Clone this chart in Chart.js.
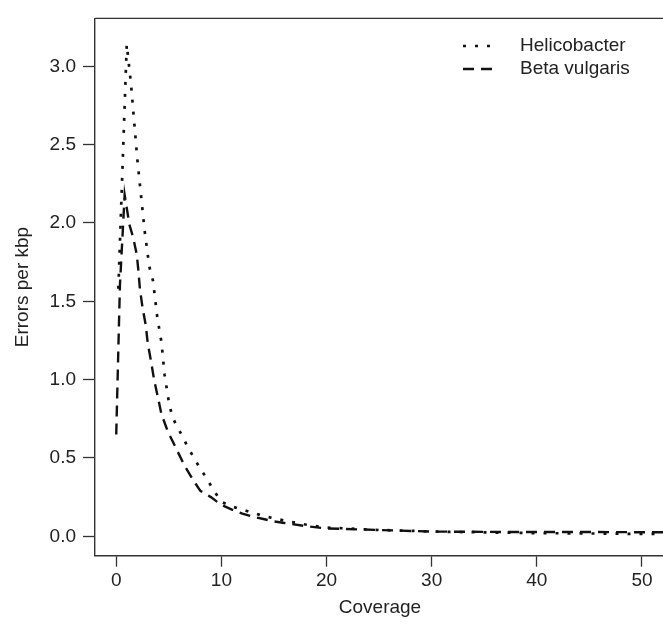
<!DOCTYPE html>
<html>
<head>
<meta charset="utf-8">
<script src="https://cdn.jsdelivr.net/npm/chart.js@4"></script>
<style>
  html, body { margin: 0; padding: 0; background: #fff; }
  #wrap { width: 663px; height: 624px; }
</style>
</head>
<body>
<div id="wrap"><canvas id="myChart" width="663" height="624"></canvas></div>
<script>
// 資料
const helicoCoverage = [0.2, 1.0, 1.4, 1.7, 2.0, 2.35, 2.7, 3.15, 3.5, 3.9, 4.3, 4.6, 5.0, 5.3, 5.7, 6.2, 6.8, 7.4, 8.0, 8.6, 9.2, 10, 11, 12, 13, 14, 16, 18, 20, 22, 25, 28, 30, 35, 40, 45, 50, 52];
const helicoErrors   = [1.58, 3.14, 2.89, 2.65, 2.41, 2.18, 1.95, 1.72, 1.63, 1.40, 1.24, 1.03, 0.86, 0.77, 0.71, 0.65, 0.57, 0.50, 0.43, 0.37, 0.30, 0.22, 0.19, 0.17, 0.15, 0.13, 0.10, 0.075, 0.055, 0.05, 0.04, 0.035, 0.03, 0.025, 0.02, 0.018, 0.015, 0.015];

const betaCoverage = [0, 0.35, 0.8, 1.25, 1.6, 1.95, 2.1, 2.25, 2.5, 2.8, 3.0, 3.3, 3.6, 3.95, 4.3, 4.9, 5.7, 6.5, 7.3, 8.0, 9.0, 10, 11, 12, 13, 14, 15, 16, 18, 20, 25, 30, 35, 40, 45, 50, 52];
const betaErrors   = [0.65, 1.6, 2.18, 1.99, 1.91, 1.80, 1.70, 1.58, 1.46, 1.35, 1.23, 1.12, 1.00, 0.89, 0.78, 0.67, 0.56, 0.45, 0.36, 0.29, 0.25, 0.20, 0.17, 0.145, 0.125, 0.11, 0.095, 0.085, 0.065, 0.05, 0.04, 0.03, 0.028, 0.027, 0.027, 0.026, 0.026];

const seriesNames = ['Helicobacter', 'Beta vulgaris'];
const xTicks = [0, 10, 20, 30, 40, 50];
const yTicks = [0, 0.5, 1.0, 1.5, 2.0, 2.5, 3.0];
const xTitle = 'Coverage';

const FONT = { family: '"Liberation Sans", Arial, sans-serif', size: 19 };
const INK = '#222';

function zip(xs, ys) {
  return xs.map((x, i) => ({ x: x, y: ys[i] }));
}

// 外框 + 圖例 + x 軸標題
const boxAndLegend = {
  id: 'boxAndLegend',
  afterDatasetsDraw(chart) {
    const { ctx, chartArea } = chart;
    ctx.save();
    ctx.strokeStyle = '#333';
    ctx.lineWidth = 1.4;
    ctx.beginPath();
    ctx.moveTo(chartArea.left, chartArea.top);
    ctx.lineTo(chartArea.right + 2, chartArea.top);
    ctx.stroke();

    ctx.font = `${FONT.size}px ${FONT.family}`;
    ctx.textBaseline = 'middle';
    ctx.fillStyle = INK;
    chart.data.datasets.forEach((ds, i) => {
      const y = 46 + i * 23;
      ctx.strokeStyle = ds.borderColor;
      ctx.lineWidth = ds.borderWidth;
      ctx.setLineDash(ds.borderDash);
      ctx.beginPath();
      ctx.moveTo(463, y);
      ctx.lineTo(495, y);
      ctx.stroke();
      ctx.setLineDash([]);
      ctx.fillText(ds.label, 520, y);
    });

    ctx.textAlign = 'center';
    ctx.fillText(xTitle, 380, 608);
    ctx.restore();
  }
};

const ctx = document.getElementById('myChart').getContext('2d');
const myChart = new Chart(ctx, {
  type: 'line',
  data: {
    datasets: [{
      label: seriesNames[0],
      data: zip(helicoCoverage, helicoErrors),
      borderColor: '#111',
      borderWidth: 2.7,
      borderDash: [3, 9],
      pointRadius: 0,
      tension: 0,
      fill: false
    }, {
      label: seriesNames[1],
      data: zip(betaCoverage, betaErrors),
      borderColor: '#111',
      borderWidth: 2.4,
      borderDash: [11, 7],
      pointRadius: 0,
      tension: 0,
      fill: false
    }]
  },
  options: {
    responsive: false,
    animation: false,
    layout: { padding: { top: 11.7, right: 0, left: 0, bottom: 0 } },
    plugins: { legend: { display: false }, tooltip: { enabled: false } },
    scales: {
      x: {
        type: 'linear',
        min: -2.02,
        max: 52.0,
        afterBuildTicks: (scale) => { scale.ticks = xTicks.map(v => ({ value: v })); },
        afterFit: (scale) => { scale.height = 68.3; },
        grid: { drawOnChartArea: false, drawTicks: true, tickLength: 11, tickColor: '#333', tickWidth: 1.3 },
        border: { display: true, color: '#333', width: 1.4 },
        ticks: { color: INK, font: FONT, padding: 3, maxRotation: 0, autoSkip: false },
        title: { display: false }
      },
      y: {
        type: 'linear',
        min: -0.124,
        max: 3.306,
        afterBuildTicks: (scale) => { scale.ticks = yTicks.map(v => ({ value: v })); },
        afterFit: (scale) => { scale.width = 95; },
        grid: { drawOnChartArea: false, drawTicks: true, tickLength: 12, tickColor: '#333', tickWidth: 1.3 },
        border: { display: true, color: '#333', width: 1.4 },
        ticks: { color: INK, font: FONT, padding: 7, callback: (v) => Number(v).toFixed(1) },
        title: { display: true, text: 'Errors per kbp', color: INK, font: FONT, padding: { top: 11, bottom: 0 } }
      }
    }
  },
  plugins: [boxAndLegend]
});
</script>
</body>
</html>
